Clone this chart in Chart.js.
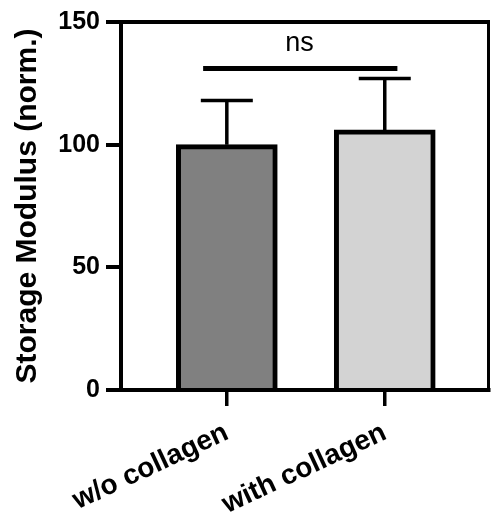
<!DOCTYPE html>
<html>
<head>
<meta charset="utf-8">
<script src="https://cdn.jsdelivr.net/npm/chart.js@4/dist/chart.umd.min.js"></script>
<style>
  html, body { margin: 0; padding: 0; background: #fff; }
  #wrap { width: 491px; height: 514px; position: relative; }
</style>
</head>
<body>
<div id="wrap"><canvas id="modChart"></canvas></div>
<script>
// data
const categories = ["w/o collagen", "with collagen"];
const means = [100, 106];
const errUpper = [18, 21];          // SD, only the upper whisker is drawn
const barColors = ["#808080", "#d3d3d3"];
const yTicks = [0, 50, 100, 150];

// significance bracket (x in category units, 1 = first bar)
const sigFrom = 0.85, sigTo = 2.08, sigLevel = 131;
const sigText = "ns", sigTextX = 1.46, sigTextLevel = 138;

const FONT = "'Liberation Sans', Arial, Helvetica, sans-serif";

// top/right frame, error bars and the ns bracket
const extrasPlugin = {
  id: "extras",
  afterDatasetsDraw(chart) {
    const ctx = chart.ctx;
    const xs = chart.scales.x, ys = chart.scales.y;
    const meta = chart.getDatasetMeta(0);
    ctx.save();
    ctx.strokeStyle = "#000";
    ctx.lineCap = "butt";

    // error bars
    ctx.lineWidth = 3.5;
    meta.data.forEach((bar, i) => {
      const yTop = ys.getPixelForValue(means[i] + errUpper[i]);
      ctx.beginPath();
      ctx.moveTo(bar.x, bar.y);
      ctx.lineTo(bar.x, yTop);
      ctx.moveTo(bar.x - 26, yTop);
      ctx.lineTo(bar.x + 26, yTop);
      ctx.stroke();
    });

    // bracket + label
    const sy = ys.getPixelForValue(sigLevel);
    ctx.lineWidth = 5;
    ctx.beginPath();
    ctx.moveTo(xs.getPixelForValue(sigFrom), sy);
    ctx.lineTo(xs.getPixelForValue(sigTo), sy);
    ctx.stroke();
    ctx.fillStyle = "#000";
    ctx.font = "27px " + FONT;
    ctx.textAlign = "center";
    ctx.textBaseline = "alphabetic";
    ctx.fillText(sigText, xs.getPixelForValue(sigTextX), ys.getPixelForValue(sigTextLevel));

    // frame top and right
    const a = chart.chartArea;
    ctx.lineWidth = 4;
    ctx.beginPath();
    ctx.moveTo(a.left, a.top);
    ctx.lineTo(a.right, a.top);
    ctx.stroke();
    ctx.lineWidth = 3;
    ctx.beginPath();
    ctx.moveTo(a.right - 0.5, a.top - 2);
    ctx.lineTo(a.right - 0.5, a.bottom);
    ctx.stroke();
    ctx.restore();
  }
};

const ctx = document.getElementById("modChart").getContext("2d");
new Chart(ctx, {
  type: "bar",
  data: {
    datasets: [{
      data: means.map((m, i) => ({ x: i + 1, y: m })),
      backgroundColor: barColors,
      borderColor: "#000",
      borderWidth: 5,
      borderSkipped: "bottom",
      barThickness: 101
    }]
  },
  options: {
    responsive: true,
    maintainAspectRatio: false,
    animation: false,
    layout: { padding: { top: 22, right: 2, left: 0, bottom: 0 } },
    plugins: {
      legend: { display: false },
      tooltip: { enabled: false }
    },
    scales: {
      x: {
        type: "linear",
        z: 1,
        offset: false,
        min: 0.33,
        max: 2.66,
        afterBuildTicks: (scale) => {
          scale.ticks = categories.map((c, i) => ({ value: i + 1 }));
        },
        afterFit: (scale) => { scale.height = 124; },
        grid: {
          display: true,
          offset: false,
          drawOnChartArea: false,
          drawTicks: true,
          tickLength: 16,
          lineWidth: 3.5,
          color: "#000"
        },
        border: { display: true, color: "#000", width: 4 },
        ticks: {
          autoSkip: false,
          minRotation: 25,
          maxRotation: 25,
          padding: 10,
          color: "#000",
          font: { family: FONT, size: 28, weight: "bold" },
          callback: (v) => categories[v - 1]
        }
      },
      y: {
        min: 0,
        max: 150,
        afterBuildTicks: (scale) => {
          scale.ticks = yTicks.map(v => ({ value: v }));
        },
        afterFit: (scale) => { scale.width = 121; },
        grid: {
          display: true,
          drawOnChartArea: false,
          drawTicks: true,
          tickLength: 15,
          lineWidth: 4,
          color: "#000"
        },
        border: { display: true, color: "#000", width: 4 },
        ticks: {
          padding: 6,
          color: "#000",
          font: { family: FONT, size: 25, weight: "bold" }
        },
        title: {
          display: true,
          text: "Storage Modulus (norm.)",
          color: "#000",
          padding: { top: 10, bottom: 0 },
          font: { family: FONT, size: 30, weight: "bold" }
        }
      }
    }
  },
  plugins: [extrasPlugin]
});
</script>
</body>
</html>
